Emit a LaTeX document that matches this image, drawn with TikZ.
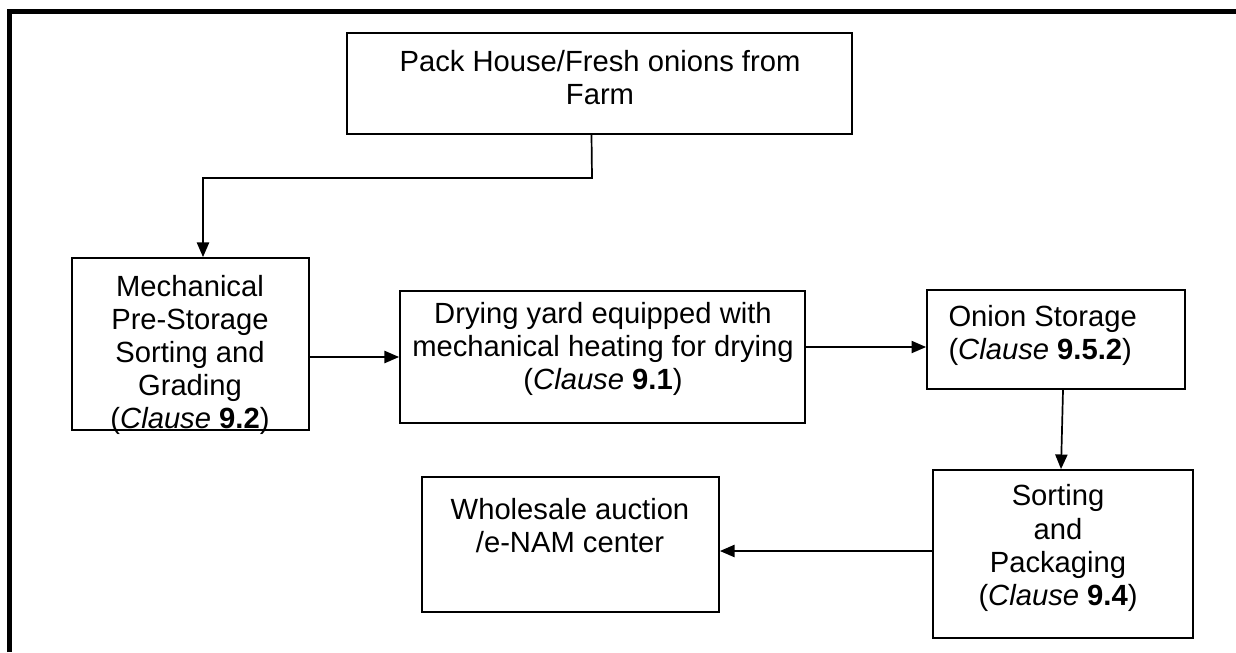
\documentclass[tikz,border=0pt]{standalone}
\usepackage{fontspec}
\setmainfont{Liberation Sans}
\usetikzlibrary{fit,arrows.meta,calc}
\tikzset{
  box/.style={draw, line width=0.75pt, inner sep=0pt},
  arr/.style={line width=0.7pt, -{Triangle[length=6pt,width=5pt]}},
  txt/.style={align=center, inner sep=0pt, font=\fontsize{12}{13.6}\selectfont},
  frame/.style={line width=2.1pt}
}
\begin{document}
\begin{tikzpicture}[x=0.411pt,y=-0.411pt]
\useasboundingbox (0,0) rectangle (1236,652);
\draw[frame] (9.5,652) -- (9.5,11.5) -- (1236,11.5);
% boxes
\node[box, fit={(347,33) (852,134)}] (top) {};
\node[box, fit={(72,258) (309,430)}] (mech) {};
\node[box, fit={(400,291) (805,423)}] (dry) {};
\node[box, fit={(927,290) (1185,389)}] (stor) {};
\node[box, fit={(933,470) (1193,638)}] (sort) {};
\node[box, fit={(422,477) (719,612)}] (whole) {};
% texts
\node[txt] (ttop) at (600,78) {Pack House/Fresh onions from\\Farm};
\node[txt] (tmech) at (190,355) {Mechanical\\Pre-Storage\\Sorting and\\Grading\\(\textit{Clause} \textbf{9.2})};
\node[txt] (tdry) at (603,349) {Drying yard equipped with\\mechanical heating for drying\\(\textit{Clause} \textbf{9.1})};
\node[txt, align=left, anchor=west] (tstor) at (948,335) {Onion Storage\\(\textit{Clause} \textbf{9.5.2})};
\node[txt] (tsort) at (1058,548) {Sorting\\and\\Packaging\\(\textit{Clause} \textbf{9.4})};
\node[txt] (twhole) at (570,526) {Wholesale auction\\/e-NAM center};
% connectors
\coordinate (bend) at (592,178);
\draw[arr] ($(top.south)+(-8,0)$) -- (bend) -| ($(mech.north)+(12.5,0)$);
\draw[arr] (mech.east |- 0,357) -- (dry.west |- 0,357);
\draw[arr] (dry.east |- 0,347) -- (stor.west |- 0,347);
\draw[arr] ($(stor.south)+(7,0)$) -- ($(sort.north)+(-2,0)$);
\draw[arr] (sort.west |- 0,551) -- (whole.east |- 0,551);
\end{tikzpicture}
\end{document}
